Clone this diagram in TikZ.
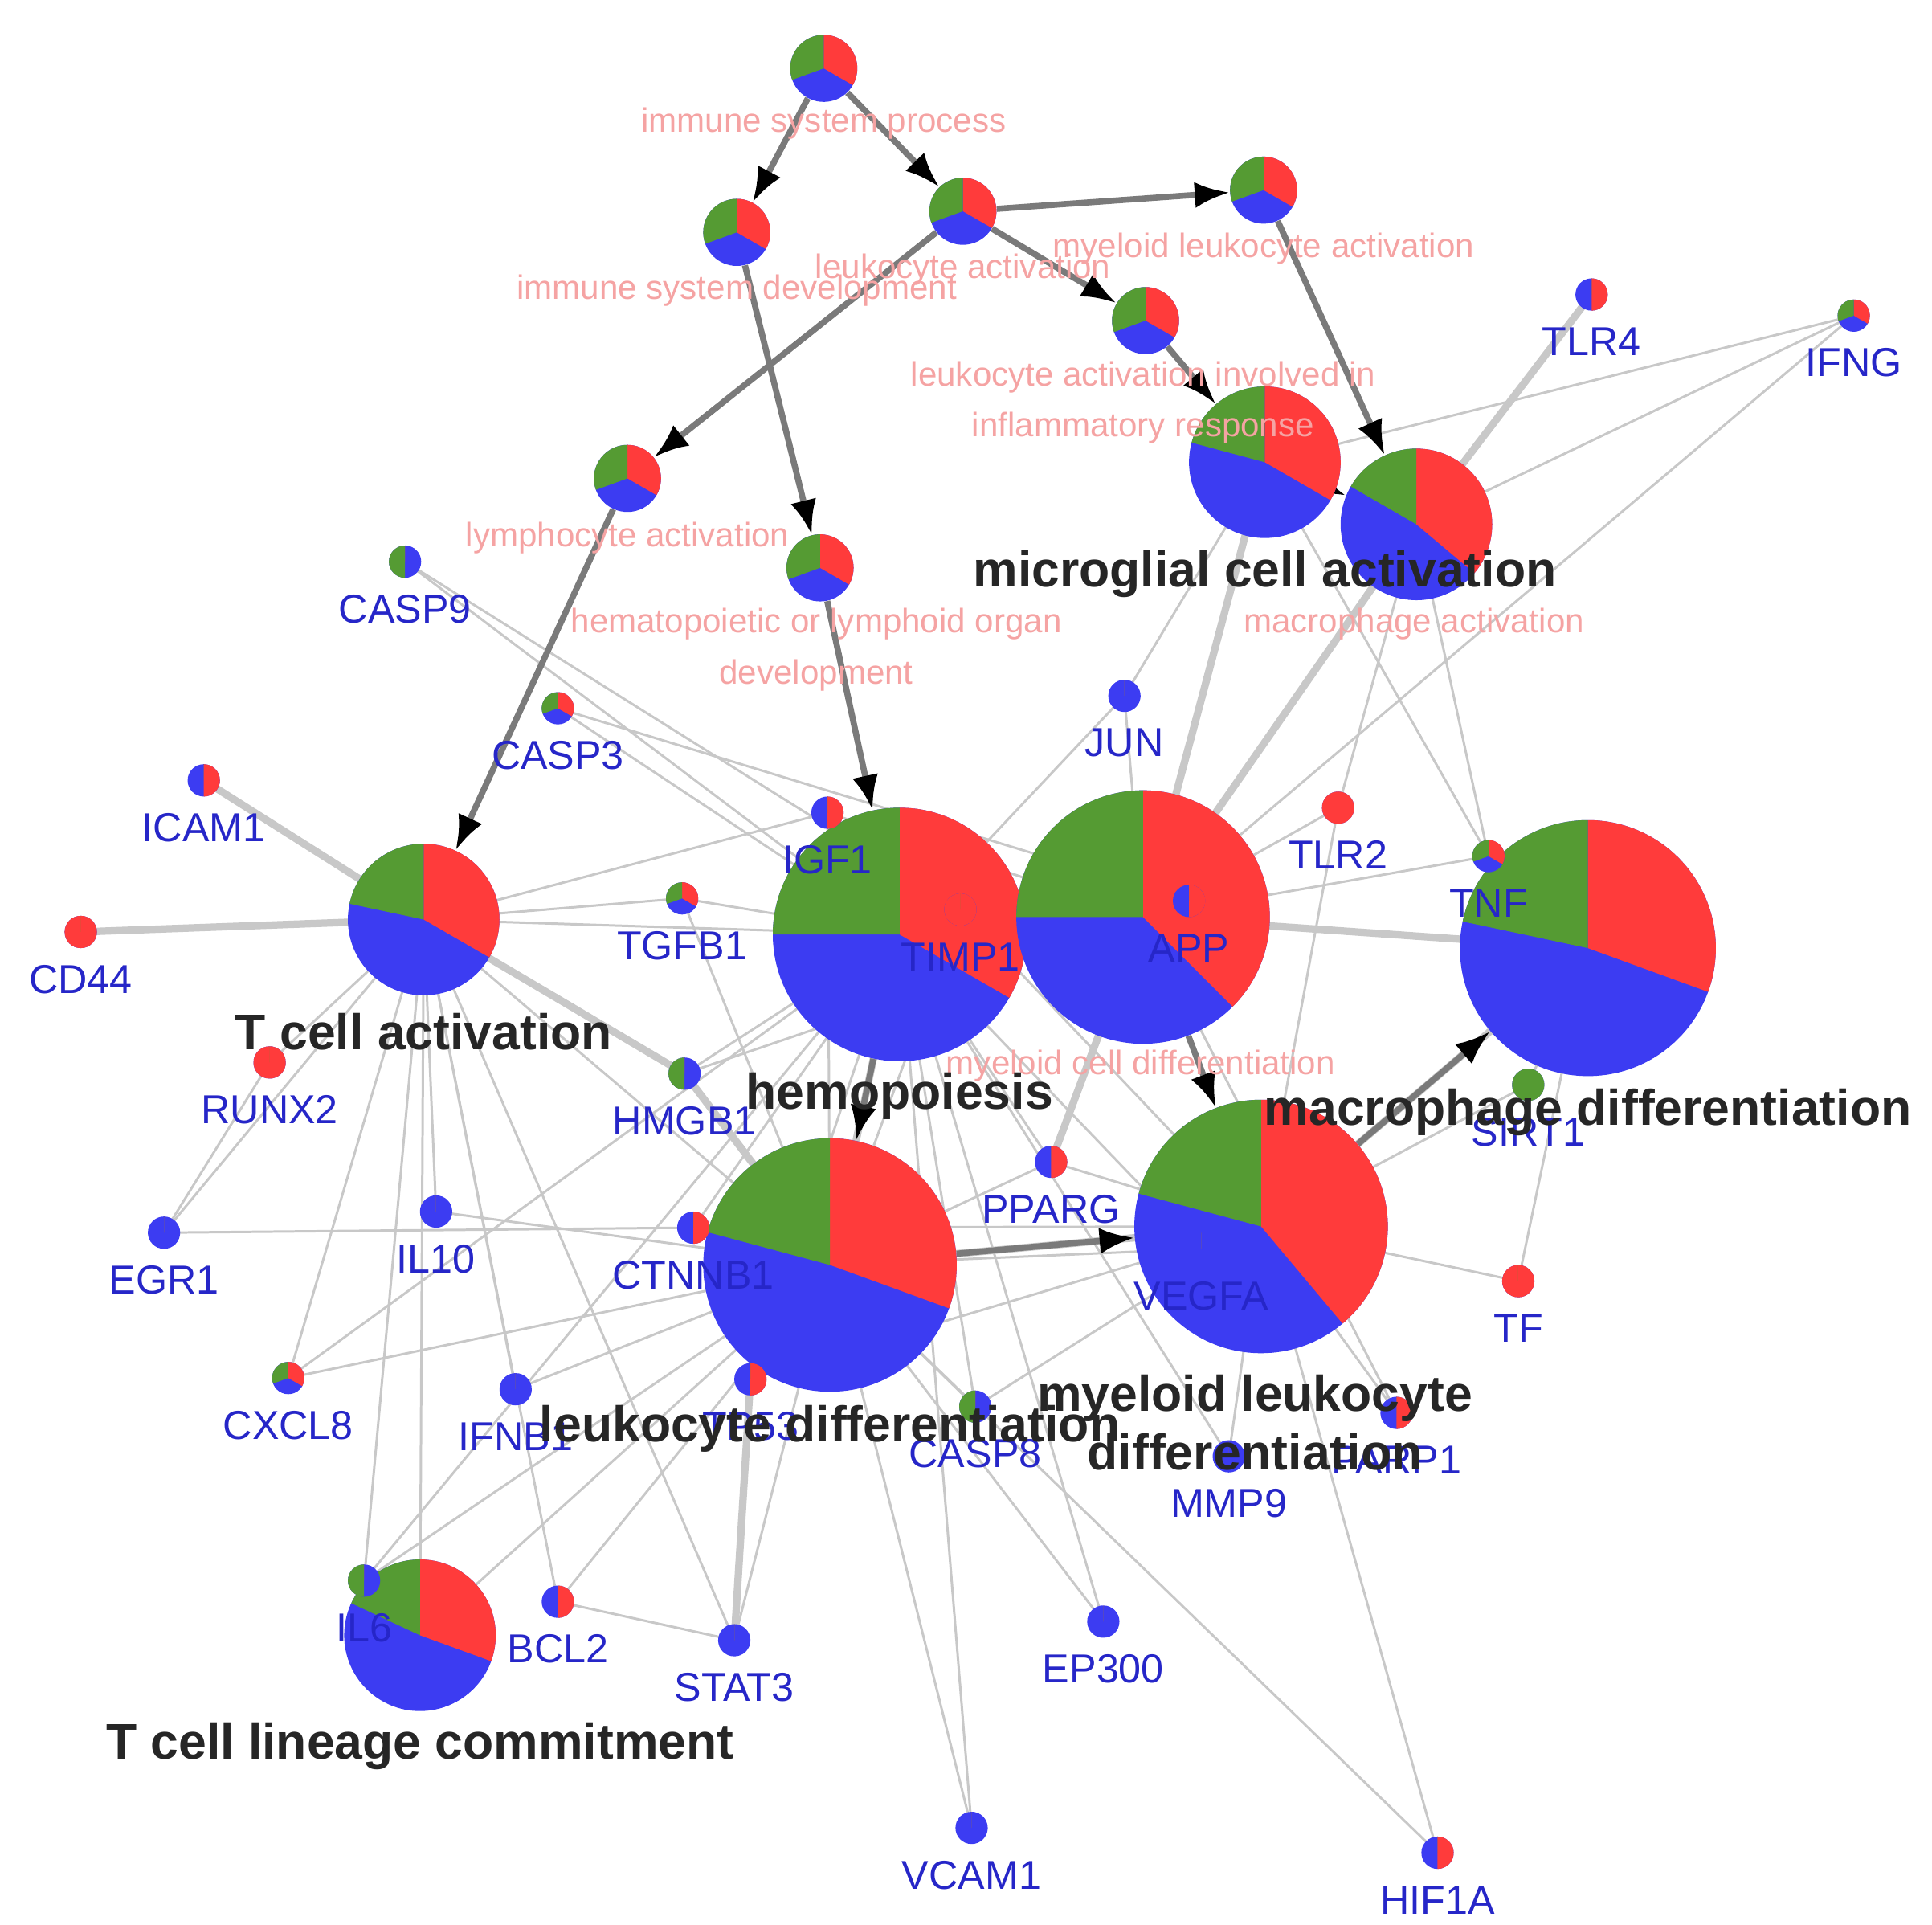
\documentclass[tikz,border=0pt]{standalone}
\usepackage{fontspec}
\setmainfont{Liberation Sans}
\usetikzlibrary{arrows.meta}
\definecolor{pr}{HTML}{FF3B3B}
\definecolor{pg}{HTML}{559B33}
\definecolor{pb}{HTML}{3C3CF2}
\definecolor{gl}{HTML}{2626C8}
\definecolor{pk}{HTML}{F5A3A3}
\definecolor{ed}{HTML}{C8C8C8}
\definecolor{ar}{HTML}{7A7A7A}
\newcommand\mypie[6]{% name,x,y,r,redend,greenend
 \node[circle,inner sep=0pt,minimum size=#4*0.04cm] (#1) at (#2,#3) {};
 \fill[pb] (#2,#3) circle[radius=#4*0.02cm];
 \fill[pr] (#2,#3) -- ++(90:#4*0.02cm) arc[start angle=90,end angle=#5,radius=#4*0.02cm] -- cycle;
 \fill[pg] (#2,#3) -- ++(90:#4*0.02cm) arc[start angle=90,end angle=#6,radius=#4*0.02cm] -- cycle;
}
\newcommand\gene[7]{% name,x,y,redend,greenend,label,labely
 \mypie{#1}{#2}{#3}{13}{#4}{#5}
 \node[glab] at (#2,#3+#7) {#6};
}
\tikzset{
 glab/.style={text=gl,font=\fontsize{18.5}{18.5}\selectfont},
 plab/.style={text=pk,font=\fontsize{15.5}{15.5}\selectfont,align=center},
 blab/.style={text=black!85,font=\bfseries\fontsize{23}{23}\selectfont,align=center},
 e/.style={ed,line width=1.1pt},
 te/.style={ed,line width=3.4pt},
 a/.style={ar,line width=2.8pt,-{Latex[length=16pt,width=12pt,color=black]}},
}
\begin{document}
\begin{tikzpicture}[x=0.02cm,y=-0.02cm]
\useasboundingbox (0,0) rectangle (1555,1549);
% nodes (positions)
\foreach \n/\x/\y/\r in {isp/663/55/27,isd/593/187/27,la/775/170/27,mla/1017/153/27,laiir/922/258/27,lya/505/385/27,hem/660/457/27,
 mic/1018/372/61,mac/1140/422/61,tca/341/740/61,hemo/724/752/102,mcd/920/738/102,macd/1278/763/103,lkd/668/1018/102,mld/1015/987/102,tcl/338/1316/61,
 casp9/326/452/13,casp3/449/570/13,icam1/164/628/13,cd44/65/750/13,igf1/666/654/13,tgfb1/549/723/13,timp1/773/732/13,app/957/725/13,jun/905/560/13,tlr2/1077/650/13,tnf/1198/689/13,tlr4/1281/237/13,ifng/1492/254/13,runx2/217/855/13,hmgb1/551/864/13,egr1/132/992/13,il10/351/975/13,ctnnb1/558/988/13,pparg/846/935/13,vegfa/967/1005/13,sirt1/1230/873/13,tf/1222/1031/13,cxcl8/232/1109/13,ifnb1/415/1118/13,tp53/604/1110/13,casp8/785/1132/13,parp1/1124/1137/13,mmp9/989/1172/13,il6/293/1272/13,bcl2/449/1289/13,stat3/591/1320/13,ep300/888/1305/13,vcam1/782/1471/13,hif1a/1157/1491/13}
 {\node[circle,inner sep=0pt,minimum size=\r*0.04cm] (\n) at (\x,\y) {};}
% thin edges
\foreach \u/\v in {casp9/hemo,casp9/timp1,casp3/hemo,casp3/app,tgfb1/tca,tgfb1/hemo,tgfb1/lkd,runx2/tca,runx2/egr1,egr1/tca,egr1/ctnnb1,il10/tca,il10/lkd,cxcl8/tca,cxcl8/lkd,cxcl8/hemo,ifnb1/tca,ifnb1/lkd,il6/tca,il6/lkd,il6/hemo,bcl2/tca,bcl2/lkd,bcl2/stat3,stat3/tca,stat3/lkd,tp53/lkd,tp53/hemo,casp8/hemo,casp8/lkd,ep300/hemo,ep300/lkd,vcam1/lkd,vcam1/hemo,hif1a/lkd,hif1a/mld,mmp9/mld,mmp9/hemo,parp1/mld,parp1/mcd,tf/mld,tf/macd,sirt1/mld,sirt1/macd,tnf/mcd,tnf/mac,tnf/mic,tlr2/mcd,tlr2/mac,tlr2/mld,jun/mcd,jun/hemo,jun/mic,ifng/mac,ifng/mic,ifng/mcd,pparg/mld,pparg/hemo,pparg/mcd,pparg/lkd,ctnnb1/mld,ctnnb1/hemo,vegfa/hemo,vegfa/lkd,igf1/hemo,igf1/lkd,igf1/tca,igf1/mcd,hmgb1/hemo,hmgb1/mcd,timp1/mld,timp1/lkd,tca/hemo,tca/lkd,tcl/lkd,tcl/tca,casp8/mld,tp53/mld}
 {\draw[e] (\u.center) -- (\v.center);}
% thick edges
\foreach \u/\v in {icam1/tca,cd44/tca,tca/hmgb1,tlr4/mac,mcd/macd,mcd/mic,mcd/mac,lkd/mld,hemo/lkd,hemo/mcd,mld/macd,tnf/macd,hmgb1/lkd,tp53/stat3,pparg/mcd,il6/tcl,ctnnb1/lkd}
 {\draw[te] (\u.center) -- (\v.center);}
% directed edges
\draw[a] (isp) -- (isd);
\draw[a] (isp) -- (la);
\draw[a] (la) -- (mla);
\draw[a] (la) -- (laiir);
\draw[a] (la) -- (lya);
\draw[a] (isd) -- (hem);
\draw[a] (mla) -- (mac);
\draw[a] (laiir) -- (mic);
\draw[a] (lya) -- (tca);
\draw[a] (hem) -- (hemo);
\draw[a] (hemo) -- (lkd);
\draw[a] (mcd) -- (mld);
\draw[a] (lkd) -- (mld);
\draw[a] (mld) -- (macd);
\draw[a] (mcd) -- (hemo);
\draw[a] (mic) -- (mac);
% pies
\mypie{p1}{663}{55}{27}{-30}{200}
\mypie{p2}{593}{187}{27}{-30}{200}
\mypie{p3}{775}{170}{27}{-30}{200}
\mypie{p4}{1017}{153}{27}{-30}{200}
\mypie{p5}{922}{258}{27}{-30}{200}
\mypie{p6}{505}{385}{27}{-30}{200}
\mypie{p7}{660}{457}{27}{-30}{200}
\mypie{p8}{1018}{372}{61}{-30}{165}
\mypie{p9}{1140}{422}{61}{-40}{150}
\mypie{p10}{341}{740}{61}{-30}{168}
\mypie{p11}{724}{752}{102}{-30}{180}
\mypie{p12}{920}{738}{102}{-45}{180}
\mypie{p13}{1278}{763}{103}{-20}{168}
\mypie{p14}{668}{1018}{102}{-20}{165}
\mypie{p15}{1015}{987}{102}{-50}{165}
\mypie{p16}{338}{1316}{61}{-20}{155}
% genes
\gene{g1}{326}{452}{90}{270}{CASP9}{38}
\gene{g2}{449}{570}{-30}{200}{CASP3}{38}
\gene{g3}{164}{628}{-90}{90}{ICAM1}{38}
\gene{g4}{65}{750}{-270}{90}{CD44}{38}
\gene{g5}{666}{654}{-90}{90}{IGF1}{38}
\gene{g6}{549}{723}{-30}{200}{TGFB1}{38}
\gene{g7}{773}{732}{-270}{90}{TIMP1}{38}
\gene{g8}{957}{725}{-90}{90}{APP}{38}
\gene{g9}{905}{560}{90}{90}{JUN}{38}
\gene{g10}{1077}{650}{-270}{90}{TLR2}{38}
\gene{g11}{1198}{689}{-30}{200}{TNF}{38}
\gene{g12}{1281}{237}{-90}{90}{TLR4}{38}
\gene{g13}{1492}{254}{-30}{200}{IFNG}{38}
\gene{g14}{217}{855}{-270}{90}{RUNX2}{38}
\gene{g15}{551}{864}{90}{270}{HMGB1}{38}
\gene{g16}{132}{992}{90}{90}{EGR1}{38}
\gene{g17}{351}{975}{90}{90}{IL10}{38}
\gene{g18}{558}{988}{-90}{90}{CTNNB1}{38}
\gene{g19}{846}{935}{-90}{90}{PPARG}{38}
\gene{g20}{967}{1005}{90}{90}{VEGFA}{38}
\gene{g21}{1230}{873}{90}{450}{SIRT1}{38}
\gene{g22}{1222}{1031}{-270}{90}{TF}{38}
\gene{g23}{232}{1109}{-30}{200}{CXCL8}{38}
\gene{g24}{415}{1118}{90}{90}{IFNB1}{38}
\gene{g25}{604}{1110}{-90}{90}{TP53}{38}
\gene{g26}{785}{1132}{90}{270}{CASP8}{38}
\gene{g27}{1124}{1137}{-90}{90}{PARP1}{38}
\gene{g28}{989}{1172}{90}{90}{MMP9}{38}
\gene{g29}{293}{1272}{90}{270}{IL6}{38}
\gene{g30}{449}{1289}{-90}{90}{BCL2}{38}
\gene{g31}{591}{1320}{90}{90}{STAT3}{38}
\gene{g32}{888}{1305}{90}{90}{EP300}{38}
\gene{g33}{782}{1471}{90}{90}{VCAM1}{38}
\gene{g34}{1157}{1491}{-90}{90}{HIF1A}{38}
% term labels
\node[plab] at (663,99) {immune system process};
\node[plab] at (593,234) {immune system development};
\node[plab] at (775,217) {leukocyte activation};
\node[plab] at (1017,200) {myeloid leukocyte activation};
\node[plab] at (920,324) {leukocyte activation involved in\\[8pt]inflammatory response};
\node[plab] at (505,433) {lymphocyte activation};
\node[plab] at (657,523) {hematopoietic or lymphoid organ\\[8pt]development};
\node[plab] at (1138,502) {macrophage activation};
\node[plab] at (918,858) {myeloid cell differentiation};
\node[blab] at (1018,462) {microglial cell activation};
\node[blab] at (341,830) {T cell activation};
\node[blab] at (724,882) {hemopoiesis};
\node[blab] at (1278,895) {macrophage differentiation};
\node[blab] at (668,1150) {leukocyte differentiation};
\node[blab] at (1010,1145) {myeloid leukocyte\\[4pt]differentiation};
\node[blab] at (338,1405) {T cell lineage commitment};
\end{tikzpicture}
\end{document}
